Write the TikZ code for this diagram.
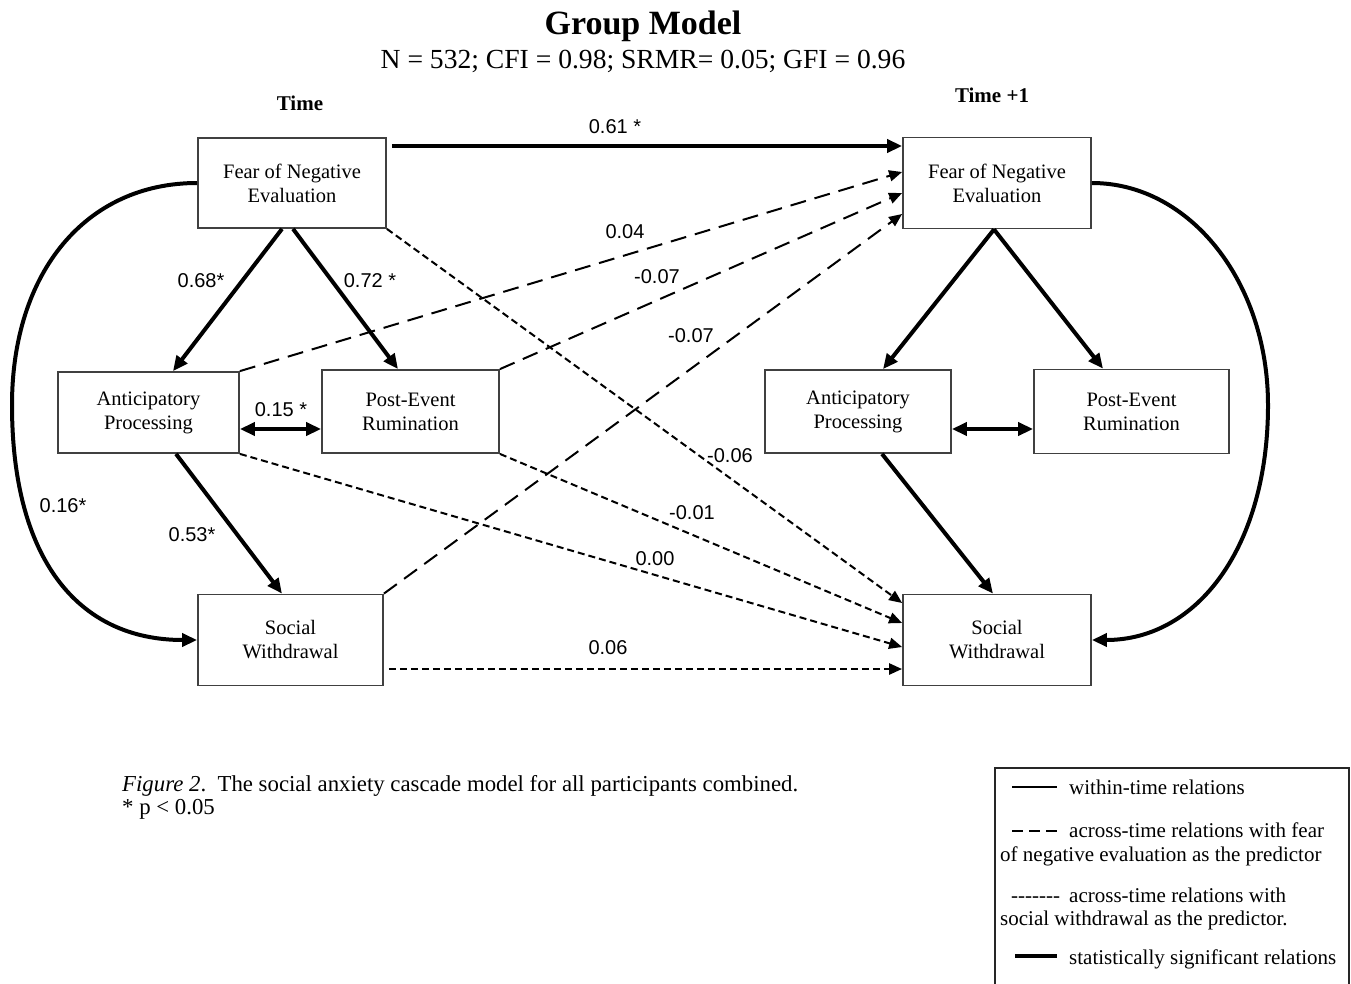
\documentclass[tikz,border=0pt]{standalone}
\usepackage{fontspec}
\setmainfont{Liberation Serif}
\newfontfamily\lblfont{Liberation Sans}
\usetikzlibrary{arrows.meta,calc}
\begin{document}
\begin{tikzpicture}[x=1pt,y=-1pt,
  box/.style={draw=black!75, line width=1.8pt, align=center, inner sep=0pt,
    font=\fontsize{20.5}{24}\selectfont},
  sig/.style={line width=4pt, -{Triangle[length=15pt,width=13pt]}},
  sigboth/.style={line width=4pt, {Triangle[length=15pt,width=13pt]}-{Triangle[length=15pt,width=13pt]}},
  longdash/.style={line width=2pt, dash pattern=on 16pt off 9pt, -{Triangle[length=13pt,width=11pt]}},
  shortdash/.style={line width=2pt, dash pattern=on 7pt off 4pt, -{Triangle[length=13pt,width=11pt]}},
  lbl/.style={font=\lblfont\fontsize{20}{24}\selectfont, inner sep=0pt},
  legtxt/.style={font=\fontsize{21}{25}\selectfont, inner sep=0pt, anchor=base west},
  captxt/.style={font=\fontsize{22.8}{27}\selectfont, inner sep=0pt, anchor=base west},
]
\useasboundingbox (0,0) rectangle (1351,983);

% titles
\node[font=\bfseries\fontsize{34}{40}\selectfont, anchor=base, inner sep=0pt] (title) at (643,34) {Group Model};
\node[font=\fontsize{27.6}{32}\selectfont, anchor=base, inner sep=0pt] (fit) at (643,68) {N = 532; CFI = 0.98; SRMR= 0.05; GFI = 0.96};
\node[font=\bfseries\fontsize{21}{25}\selectfont, anchor=base, inner sep=0pt] (t0) at (300,110) {Time};
\node[font=\bfseries\fontsize{21}{25}\selectfont, anchor=base, inner sep=0pt] (t1) at (992,102) {Time +1};

% boxes, time
\node[box, minimum width=188, minimum height=90] (F1) at (292,183) {Fear of Negative\\Evaluation};
\node[box, minimum width=181, minimum height=81] (A1) at (148.5,412.5) {Anticipatory\\Processing};
\node[box, minimum width=177, minimum height=83] (P1) at (410.5,411.5) {Post-Event\\Rumination};
\node[box, minimum width=185, minimum height=91] (S1) at (290.5,640) {Social\\Withdrawal};
% boxes, time +1
\node[box, minimum width=188, minimum height=91] (F2) at (997,183) {Fear of Negative\\Evaluation};
\node[box, minimum width=186, minimum height=83] (A2) at (858,411.5) {Anticipatory\\Processing};
\node[box, minimum width=195, minimum height=84] (P2) at (1131.5,411.5) {Post-Event\\Rumination};
\node[box, minimum width=188, minimum height=91] (S2) at (997,640) {Social\\Withdrawal};

% within-time, time
\draw[sig] ($(F1.south)+(-10,0)$) -- ($(A1.north)+(24.5,0)$);
\draw[sig] ($(F1.south)+(1,0)$) -- ($(P1.north)+(-12.5,0)$);
\draw[sigboth] ($(A1.east)+(0,16.5)$) -- ($(P1.west)+(0,17.5)$);
\draw[sig] ($(A1.south)+(27.5,0)$) -- ($(S1.north)+(-8.5,0)$);
\coordinate (lc) at (12,405);
\draw[sig] (F1.west) .. controls +(-111,0) and +(0,-133) .. (lc)
  .. controls +(0,153) and +(-120,0) .. (S1.west);

% within-time, time +1
\draw[sig] ($(F2.south)+(-3,0)$) -- ($(A2.north)+(25,0)$);
\draw[sig] ($(F2.south)+(-3,0)$) -- ($(P2.north)+(-28.5,0)$);
\draw[sigboth] ($(A2.east)+(0,17.5)$) -- ($(P2.west)+(0,17.5)$);
\draw[sig] ($(A2.south)+(24,0)$) -- ($(S2.north)+(-4,0)$);
\coordinate (rc) at (1268,405);
\draw[sig] (F2.east) .. controls +(98,0) and +(0,-123) .. (rc)
  .. controls +(0,141) and +(106,0) .. (S2.east);

% across time
\draw[sig] ($(F1.east)+(5,-37)$) -- ($(F2.west)+(0,-37)$);
\draw[longdash] (A1.north east) -- ($(F2.west)+(0,-11)$);
\draw[longdash] (P1.north east) -- ($(F2.west)+(0,10)$);
\draw[longdash] (S1.north east) -- ($(F2.west)+(0,31)$);
\draw[shortdash] (F1.south east) -- ($(S2.west)+(0,-37)$);
\draw[shortdash] (P1.south east) -- ($(S2.west)+(0,-17)$);
\draw[shortdash] (A1.south east) -- ($(S2.west)+(0,7)$);
\draw[shortdash, line width=2.6pt] ($(S1.east)+(5,29)$) -- ($(S2.west)+(0,29)$);

% coefficient labels
\node[lbl] (l1) at (615,127) {0.61 *};
\node[lbl] (l2) at (201,281) {0.68*};
\node[lbl] (l3) at (370,281) {0.72 *};
\node[lbl] (l4) at (281,410) {0.15 *};
\node[lbl] (l5) at (63,506) {0.16*};
\node[lbl] (l6) at (192,535) {0.53*};
\node[lbl] (l7) at (625,232) {0.04};
\node[lbl] (l8) at (657,277) {-0.07};
\node[lbl] (l9) at (691,336) {-0.07};
\node[lbl] (l10) at (730,456) {-0.06};
\node[lbl] (l11) at (692,513) {-0.01};
\node[lbl] (l12) at (655,559) {0.00};
\node[lbl] (l13) at (608,648) {0.06};

% caption
\node[captxt] (cap1) at (122,791) {\textit{Figure 2}.\ \ The social anxiety cascade model for all participants combined.};
\node[captxt] (cap2) at (122,814) {* p {\textless} 0.05};

% legend
\draw[line width=1.5pt, black!85] (995,990) -- (995,768) -- (1349,768) -- (1349,990);
\draw[line width=1.3pt] (1012,787) -- (1057,787);
\node[legtxt] (g1) at (1069,794) {within-time relations};
\draw[line width=2pt, dash pattern=on 11pt off 6pt] (1012,831) -- (1057,831);
\node[legtxt] (g2) at (1069,837) {across-time relations with fear};
\node[legtxt] (g3) at (1000,861) {of negative evaluation as the predictor};
\node[legtxt] (g4a) at (1011,902) {-{}-{}-{}-{}-{}-{}-};
\node[legtxt] (g4) at (1069,902) {across-time relations with};
\node[legtxt] (g5) at (1000,925) {social withdrawal as the predictor.};
\draw[line width=3.5pt] (1015,956) -- (1057,956);
\node[legtxt] (g6) at (1069,964) {statistically significant relations};
\end{tikzpicture}
\end{document}
